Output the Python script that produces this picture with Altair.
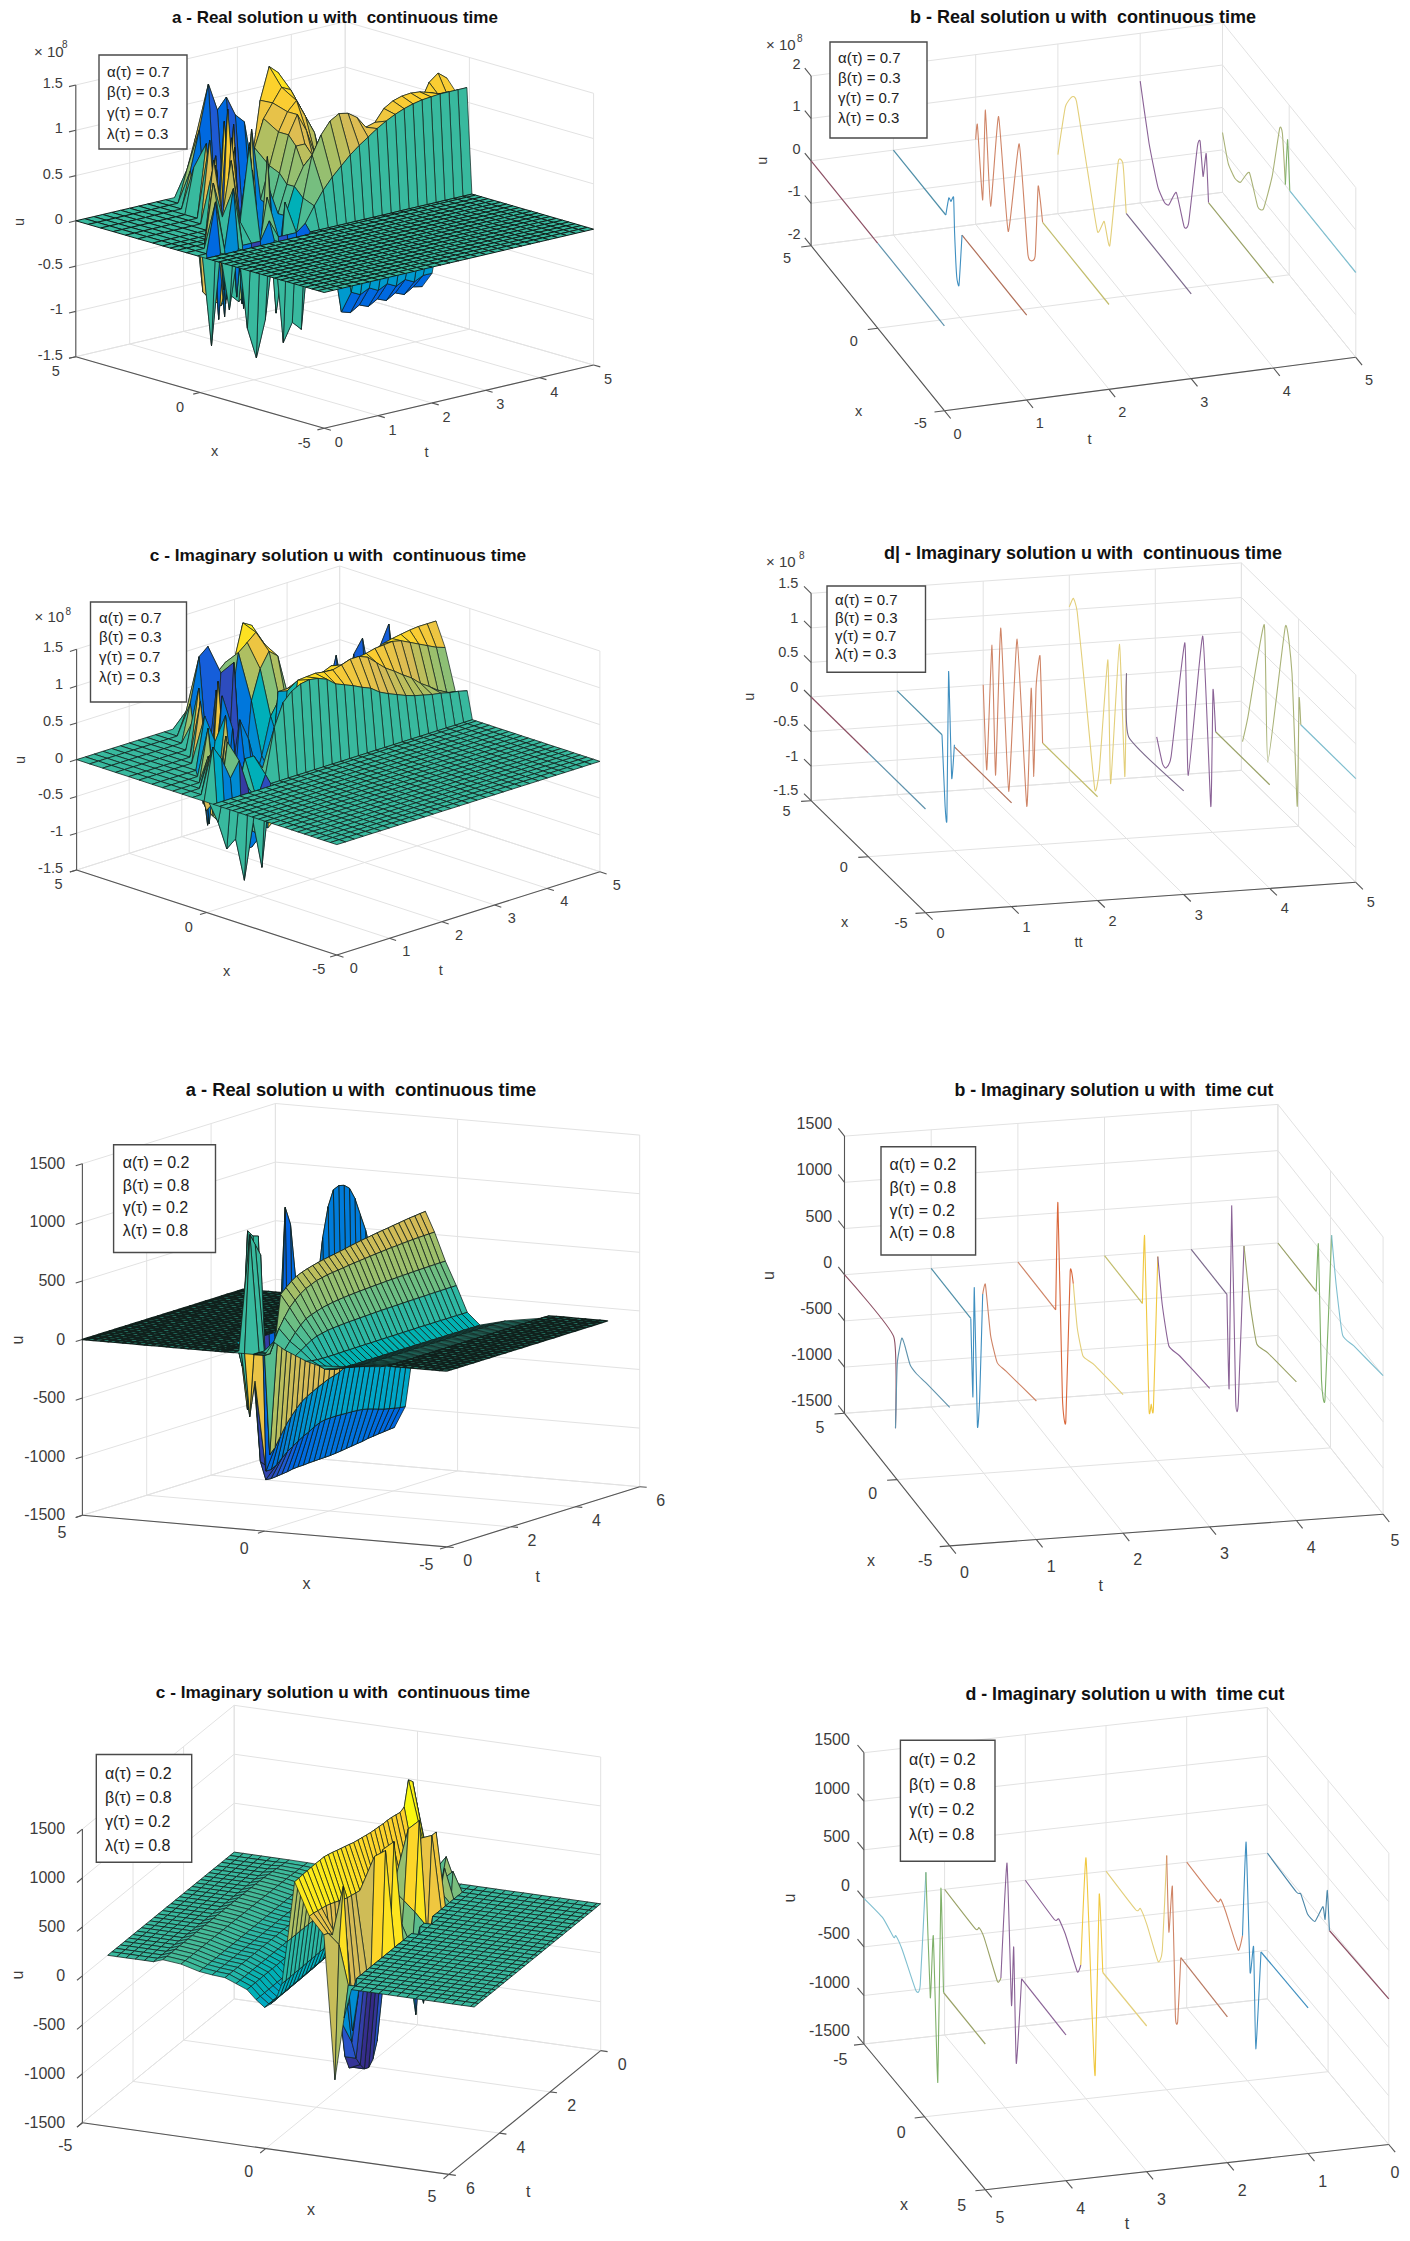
import altair as alt

PARULA = ["#352A87", "#0363E1", "#1485D4", "#06A7C6", "#38B99E", "#92BF73", "#D9BA56", "#FCCE2E", "#F9FB0E"]
RED, BLUEG, TEAL, BLUE = "#8c4f63", "#5f93ad", "#4f8fa8", "#3f8fc0"
ORANGE, OLIVEY, YELLOW, PURPG = "#cf8466", "#c2bd6c", "#e3cf7a", "#7c6a8c"
PURPLE, OLIVE, OLIVEG, LBLUE, GREEN = "#8a6296", "#9aa267", "#a9b277", "#7fbfd0", "#7fb069"

# ---------- surface a (x row -> u at t = i/6, in 1e8) ----------
A_ROWS = [
 (-0.1, [0,-1.0,0,-.65,0,-.9,-1.25,-.85,0,-1.15,-.95,-1.05,0,0,0,0,0,0,0,0,0,0,0,0,0,0,0,0,0,0,0]),
 (0.1, [0,0,.55,0,.65,0,0,0,.2,0,0,0,.08,.25,.4,.52,.62,.72,.8,.87,.94,1.0,1.05,1.09,1.12,1.14,1.15,1.16,1.16,1.16,1.16]),
 (0.55, [0,0,0,.7,.3,.9,.2,1.0,-.2,.4,-.9,.3,-.2,.3,.75,.95,1.08,1.14,1.12,1.05,.92,.95,1.08,1.14,1.17,1.18,1.17,1.14,1.1,1.08,1.08]),
 (0.9, [0,0,0,0,.9,-.3,1.1,-.4,1.0,-.5,.8,-.6,.1,.4,.6,.7,.8,.85,.85,.8,.65,.65,.8,.85,.9,.92,.95,1.0,1.2,1.28,1.2]),
 (1.2, [0,0,0,0,0,.8,-.6,.9,-.8,.7,-.7,.4,.1,.4,.8,.8,.6,.4,.3,.1,.0,-.4,-.45,-.5,-.5,-.5,-.5,-.5,-.5,-.5,-.5]),
 (1.5, [0,0,0,0,0,0,.7,-.8,.9,-.9,.6,-.8,.15,.5,.9,1.1,.9,.6,.3,.1,-.5,-1.0,-1.05,-1.0,-1.05,-1.0,-1.05,-1.0,-1.05,-1.0,-1.0]),
 (1.9, [0,0,0,0,0,0,0,.8,-1.0,1.1,-.9,1.0,.2,.55,.9,1.1,1.2,1.0,.8,.4,-.6,-1.25,-1.28,-1.22,-1.26,-1.2,-1.24,-1.18,-1.22,-1.16,-1.18]),
 (2.5, [0,0,0,0,0,0,0,0,.9,-1.1,1.2,-.9,.4,.7,1.0,1.15,1.3,1.25,1.05,.7,.4,.2,-.2,-.5,-.7,-.7,-.7,-.7,-.7,-.7,-.7]),
 (3.0, [0,0,0,0,0,0,0,0,0,.8,-1.0,1.0,-.6,0,.44,1.14,1.49,1.4,1.2,.9,.7,.5,.2,-.2,-.5,-.7,-.8,-.8,-.8,-.8,-.8]),
 (3.5, [0,0,0,0,0,0,0,0,0,.5,-.9,-1.0,-1.1,-1.0,-1.1,-1.0,-.8,-.5,-.2,0,.2,.3,.2,0,-.2,-.4,-.5,-.6,-.6,-.6,-.6]),
 (4.0, [0,0,0,0,0,0,0,0,0,0,.4,.83,1.31,1.0,1.12,.9,.8,.2,-.3,-.6,-.8,-.8,-.8,-.6,-.4,-.2,-.2,-.2,-.2,-.2,-.2]),
 (4.5, [0,0,0,0,0,0,0,0,0,0,0,.35,.7,.2,.4,.5,.2,0,0,0,0,0,0,0,0,0,0,0,0,0,0]),
]
# ---------- surface c ----------
C_ROWS = [
 (-0.1, [0,-.3,-.7,-.6,-1.2,-.45,-1.1,0,0,0,0,0,0,0,0,0,0,0,0,0,0,0,0,0,0,0,0,0,0,0,0]),
 (0.1, [0,.7,.5,.2,.4,0,-.2,.1,.7,1.0,1.12,1.18,1.2,1.18,1.13,1.03,.98,.93,.87,.82,.73,.67,.62,.57,.53,.5,.47,.45,.42,.4,.37]),
 (0.55, [0,0,.5,-.3,.6,-.2,.3,.3,.1,0,-.2,-.1,1.14,1.15,1.16,1.14,1.13,1.16,1.2,1.2,1.15,1.04,.93,.85,.76,.68,.57,.49,.4,.33,.3]),
 (0.95, [0,0,0,.4,-.5,.6,-.4,-.4,-.8,-.9,-.7,-.4,.95,1.0,1.0,1.05,1.05,1.1,1.06,1.08,1.1,1.12,1.15,1.16,1.17,1.14,1.08,1.02,.96,.9,.86]),
 (1.3, [0,0,0,0,.7,-.3,.8,-.9,-1.1,-1.1,-.9,-.5,.9,.9,.95,.95,.95,.9,.9,.9,.95,1.0,1.0,1.05,1.1,1.13,1.15,1.17,1.18,1.18,1.18]),
 (1.7, [0,0,0,0,0,-.5,.4,-.8,.5,-.9,-.7,-.9,-1.0,-.9,-1.0,-1.1,-1.0,-1.1,-1,-1.1,-1.0,-.9,-1.0,-1.0,-1.0,-1,-1,-1,-1,-1,-1]),
 (2.1, [0,0,0,0,0,0,.7,-.7,.9,-1.0,.5,.2,-.3,-.6,-.5,-.2,0,.2,.3,.4,.5,.96,.3,.9,1.08,.4,.9,1.16,.2,-.3,-.5]),
 (2.6, [0,0,0,0,0,0,0,.8,-.9,1.0,-.8,-1.1,-1.0,-.6,-.2,.3,.5,.3,.1,-.2,-.4,-.5,-.5,-.5,-.5,-.5,-.5,-.5,-.5,-.5,-.5]),
 (3.0, [0,0,0,0,0,0,0,0,.9,-1.0,.8,-1.1,1.1,-.8,.5,.9,1.1,1.0,.5,.1,-.3,-.6,-.7,-.7,-.7,-.7,-.7,-.7,-.7,-.7,-.7]),
 (3.5, [0,0,0,0,0,0,0,0,0,.4,-.8,-1.0,.9,.3,1.1,1.2,1.3,1.1,.6,.1,-.3,-.6,-.7,-.7,-.7,-.7,-.7,-.7,-.7,-.7,-.7]),
 (4.0, [0,0,0,0,0,0,0,0,0,0,.5,1.1,1.2,.8,.91,.9,1.37,1.3,.7,.2,-.2,-.5,-.6,-.6,-.6,-.6,-.6,-.6,-.6,-.6,-.6]),
 (4.5, [0,0,0,0,0,0,0,0,0,0,0,.3,.5,.2,.3,.4,.3,.1,0,0,0,0,0,0,0,0,0,0,0,0,0]),
]
# ---------- surface e ----------
E_ROWS = [
 (-3.2, [-10,-15,-20,-22,-24,-25,-25,-25,-25,-25,-25,-25,-25,-25,-25,-25,-25,-25,-25,-25,-25,-25,-25,-25,-25,-25,-25,-25,-25,-25,-25]),
 (-2.2, [-38,-55,-65,-70,-72,-74,-75,-75,-75,-75,-75,-75,-75,-75,-75,-75,-75,-75,-75,-75,-75,-75,-75,-75,-75,-75,-75,-75,-75,-75,-75]),
 (-1.5, [-50,-90,-110,-120,-125,-128,-130,-130,-130,-130,-130,-130,-130,-130,-130,-130,-130,-130,-130,-130,-130,-130,-130,-130,-130,-130,-130,-130,-130,-130,-130]),
 (-1.15, [-20,-30,-35,-38,-38,-38,-38,-36,-36,-35,-35,-34,-34,-33,-33,-32,-32,-32,-31,-31,-31,-30,-30,-30,-30,-30,-30,-30,-30,-30,-30]),
 (-.85, [20,50,80,110,130,140,150,155,160,163,166,168,170,172,174,176,178,179,180,181,182,183,184,185,186,187,188,188,189,189,190]),
 (-.55, [60,120,180,230,270,290,305,320,330,338,345,350,355,358,362,365,368,370,372,375,377,379,381,383,385,386,387,388,389,390,390]),
 (-.25, [120,220,300,370,420,460,490,510,530,540,550,556,562,568,574,580,585,590,595,600,604,608,612,615,618,621,624,626,628,629,630]),
 (0.0, [0,0,100,476,520,560,590,610,625,638,650,660,668,677,685,695,705,713,722,730,738,745,752,758,765,772,778,785,790,795,800]),
 (0.3, [0,0,0,-900,-850,-770,-690,-630,-575,-529,-500,-475,-450,-430,-408,-395,-380,-352,-345,-340,-335,-330,-328,-325,-322,-320,-318,-316,-315,-314,-312]),
 (0.55, [0,1000,900,800,-1060,-1060,-1034,-990,-950,-920,-890,-860,-840,-810,-790,-778,-776,-776,-778,-780,-782,-785,-790,-800,-815,-830,-845,-855,-865,-875,-880]),
 (0.85, [0,0,0,-590,-300,-1000,-1170,-1175,-1170,-1165,-1160,-1150,-1146,-1145,-1142,-1140,-1138,-1137,-1135,-1130,-1125,-1118,-1112,-1105,-1100,-1090,-1085,-1080,-1075,-1070,-1066]),
 (1.1, [0,0,0,0,0,0,0,-500,-1050,-1000,-900,-900,-900,-850,-800,-800,-750,-700,-700,-700,-700,-700,-700,-700,-700,-700,-700,-700,-700,-700,-700]),
 (1.2, [0,0,0,0,0,958,900,885,-1000,-1100,-900,-500,1058,900,400,-300,-600,-300,300,700,950,1080,1102,1090,1050,950,800,650,450,300,100]),
 (1.35, [0,0,0,0,0,-200,-588,0,0,0,0,0,0,0,0,0,0,0,0,0,0,0,0,0,0,0,0,0,0,0,0]),
]
# ---------- surface g ----------
G_ROWS = [
 (-3.5, [0,5,10,15,20,25,28,30,31,32,33,34,34,34,34,34,34,34,34,34,34,34,34,34,34,34,34,34,34,34,34]),
 (-3.0, [-3,0,2,4,6,8,9,10,10,11,11,12,12,12,13,13,13,14,14,14,14,15,15,15,15,15,15,15,15,15,15]),
 (-2.5, [-10,-15,-20,-22,-25,-26,-26,-27,-27,-28,-28,-29,-29,-30,-30,-30,-31,-31,-31,-32,-32,-32,-33,-33,-33,-33,-34,-34,-34,-34,-34]),
 (-2.15, [-30,-35,-38,-40,-42,-44,-45,-45,-46,-46,-47,-47,-47,-48,-48,-48,-49,-49,-49,-50,-50,-50,-50,-50,-50,-50,-50,-50,-50,-50,-50]),
 (-1.8, [-50,-50,-51,-52,-52,-53,-53,-54,-54,-55,-55,-55,-56,-56,-56,-57,-57,-57,-58,-58,-58,-58,-59,-59,-59,-59,-60,-60,-60,-60,-60]),
 (-1.5, [-75,-80,-85,-88,-90,-92,-94,-95,-96,-97,-98,-98,-99,-99,-100,-100,-100,-101,-101,-102,-102,-102,-103,-103,-103,-103,-104,-104,-104,-105,-105]),
 (-1.2, [-110,-115,-120,-125,-130,-132,-134,-136,-137,-138,-139,-140,-141,-142,-143,-144,-144,-145,-145,-146,-146,-147,-147,-148,-148,-148,-149,-149,-150,-150,-150]),
 (-.95, [-120,-140,-170,-190,-200,-210,-215,-218,-220,-222,-224,-225,-226,-227,-228,-229,-230,-231,-232,-233,-234,-235,-236,-237,-238,-238,-239,-239,-240,-240,-240]),
 (-.72, [-60,-100,-150,-190,-230,-250,-270,-275,-278,-280,-282,-283,-285,-287,-288,-290,-292,-293,-295,-296,-297,-298,-299,-300,-301,-302,-303,-304,-305,-306,-307]),
 (-.55, [40,-30,-90,-130,-170,-190,-200,-210,-218,-222,-226,-230,-233,-236,-238,-240,-242,-244,-246,-248,-250,-252,-254,-255,-256,-257,-258,-259,-260,-261,-262]),
 (-.4, [120,50,0,-50,-90,-120,-130,-140,-150,-155,-160,-165,-170,-172,-174,-176,-178,-180,-182,-184,-186,-188,-190,-191,-192,-193,-194,-195,-196,-198,-199]),
 (-.25, [400,300,220,150,100,60,40,20,10,0,-5,-10,-12,-15,-18,-20,-22,-24,-26,-28,-30,-32,-33,-34,-35,-36,-37,-38,-39,-40,-40]),
 (-.1, [700,600,500,450,420,400,400,400,400,400,400,400,400,400,400,400,400,400,400,400,400,400,400,400,400,400,400,400,400,400,400]),
 (0.1, [500,800,1060,1113,870,850,860,870,875,875,880,885,890,900,910,920,930,945,960,975,990,1005,1018,1030,1030,1030,1030,1028,1025,1022,1020]),
 (0.5, [0,100,300,500,100,200,220,240,260,280,300,330,360,400,440,490,510,520,530,540,550,560,580,600,620,640,655,665,675,685,690]),
 (0.9, [0,300,100,-300,-200,100,-100,700,100,-500,900,200,-300,100,-200,400,900,300,900,-500,-800,-1000,-1050,-1080,-1050,-900,-500,395,450,500,521]),
 (1.2, [0,0,200,-400,300,100,744,744,-200,-900,1001,100,-400,-200,-600,200,997,-100,975,-300,-900,-1050,-1100,-1080,-1000,-900,-700,-300,964,400,-945]),
 (1.45, [0,0,0,0,0,0,0,0,0,0,-400,0,0,-863,0,0,0,0,0,0,0,0,0,0,0,0,0,0,-500,0,-300]),
]

# ---------- slice curves: (t, colour, x values, u values) ----------
B_LINES = [
 (0,RED,[5,0],[0,0]),(0,BLUEG,[0,-5],[0,0]),
 (1,TEAL,[5,1.07],[0,0]),
 (1,BLUE,[1.07,.84,.68,.48,.41,.25,.08,-.15],[0,.49,.47,.65,-.17,-1.13,-1.27,0]),
 (1,"#b06f58",[-.15,-5],[0,0]),
 (2,ORANGE,[5,4.87,4.47,4.27,3.88,3.28,2.56,1.73,1.07,.54,.31,-.02],[0,.40,-1.22,.98,-1.14,1.21,-1.22,1.17,-1.2,-1.02,.73,0]),
 (2,OLIVEY,[-.02,-5],[0,0]),
 (3,YELLOW,[5,4.44,3.94,3.61,2.79,2.03,1.53,1.11,.48,.15,.05,-.12],[-.61,.74,1.17,1.19,-.11,-1.27,-.83,-1.24,.98,1.1,.84,0]),
 (3,PURPG,[-.12,-5],[0,0]),
 (4,PURPLE,[5,4.34,3.68,3.18,2.85,2.29,1.7,1.37,.71,.51,.28,.05,-.12],[.87,-.33,-1.1,-1.28,-1.21,-.7,-1.28,-1.06,1.0,1.2,.46,1.09,0]),
 (4,OLIVE,[-.12,-5],[0,0]),
 (5,OLIVEG,[5,4.57,4.08,3.65,2.99,2.36,1.93,1.27,.71,.51,.28],[-.59,-1.15,-1.31,-1.24,-.75,-1.31,-1.2,-.17,1.18,1.14,.02]),
 (5,GREEN,[.28,.12,-.05],[.02,1.14,0]),
 (5,LBLUE,[-.05,-5],[0,0]),
]
D_LINES = [
 (0,RED,[5,0],[0,0]),(0,BLUEG,[0,-5],[0,0]),
 (1,TEAL,[5,1.08],[0,0]),
 (1,BLUE,[1.08,.81,.65,.5,.23,0],[0,-.99,-1.15,1.01,-.49,.03]),
 (1,"#b06f58",[0,-5],[0,0]),
 (2,ORANGE,[5,4.69,4.23,3.92,3.46,2.77,2.04,1.19,.81,.58,.38,.04,-.19],[0,-1.18,.7,-1.13,1.07,-1.18,1.14,-1.14,.63,-.61,.72,1.22,0]),
 (2,OLIVEY,[-.19,-5],[0,0]),
 (3,YELLOW,[5,4.65,4.31,3.62,2.77,2.38,1.62,1.38,.62,.15,0],[1.04,1.22,1.08,.06,-1.24,-.9,.82,-.93,1.21,-.63,.89]),
 (3,PURPG,[0,-.19,-5],[.89,0,0]),
 (4,PURPLE,[4.88,4.38,4.08,3.62,2.42,2.12,.85,.15,-.04,-.27],[-.91,-1.21,-1.23,-.99,.85,-1.02,1.2,-1.15,.57,0]),
 (4,OLIVE,[-.27,-5],[0,0]),
 (5,OLIVEG,[4.9,4.42,3,2.69,1.15,.58,.12,-.04,-.19],[-1.07,-.63,.93,-1.01,1.21,.62,-1.23,.36,0]),
 (5,LBLUE,[-.19,-5],[0,0]),
]
F_LINES = [
 (0,RED,[5,.31,.15],[0,0,-965]),
 (0,BLUEG,[.15,-.02,-.44,-.73,-1.23,-1.86,-2.82,-5],[-965,-235,93,56,-78,-90,-56,0]),
 (1,TEAL,[5,1.23],[0,0]),
 (1,BLUE,[1.23,1.03,.9,.61,.4,.1],[0,-823,380,-1073,-771,425]),
 (1,ORANGE,[.1,-.15,-.65,-1.28,-2.11,-5],[425,566,86,-119,-93,0]),
 (2,ORANGE,[5,1.4],[0,0]),
 (2,"#d9663a",[1.4,1.19,.77,.44,.02,-.27],[0,1189,-857,-1070,611,522]),
 (2,YELLOW,[-.27,-.65,-1.19,-2.24,-5],[522,93,-130,-71,0]),
 (3,OLIVEY,[5,1.4],[0,0]),
 (3,"#f0c840",[1.4,1.19,.77,.56,.36,-.06],[0,760,-1055,-969,-995,716]),
 (3,PURPLE,[-.06,-.48,-1.11,-2.15,-5],[716,261,-97,-60,0]),
 (4,PURPG,[5,1.61],[0,0]),
 (4,PURPLE,[1.61,1.4,1.15,.77,.52,-.02],[0,-991,1025,-1032,-1017,757]),
 (4,OLIVE,[-.02,-.61,-1.23,-2.28,-5],[757,209,-130,-75,0]),
 (5,OLIVE,[5,1.36],[0,0]),
 (5,GREEN,[1.36,1.15,.86,.52,-.1],[0,540,-891,-1047,816]),
 (5,LBLUE,[-.1,-.52,-1.15,-2.2,-5],[816,354,-115,-78,0]),
]
H_LINES = [
 (5,LBLUE,[-5,-3.44,-2.54,-2.36,-1.81,-.72,-.36,.11],[0,34,-34,11,-60,-307,-199,1035]),
 (5,GREEN,[.11,.47,.72,1.09,1.34,1.56],[1035,-202,472,-982,1054,15]),
 (5,OLIVE,[1.56,5],[15,0]),
 (4,OLIVE,[-5,-2.46,-2.17,-1.74,-.65,-.36],[0,-26,30,-11,-296,-217]),
 (4,PURPLE,[-.36,.14,.51,.69,.91,1.34],[-217,1042,-367,259,-907,30]),
 (4,PURPLE,[1.34,5],[30,0]),
 (3,PURPLE,[-5,-2.61,-2.25,-1.7,-.72,-.43],[0,-45,15,-60,-300,-187]),
 (3,"#f0c840",[-.43,0,.51,.76,1.09,1.38],[-187,982,-574,-1136,769,7]),
 (3,YELLOW,[1.38,5],[7,0]),
 (2,YELLOW,[-5,-2.54,-2.17,-1.63,-.72,-.36,0],[0,-30,41,-45,-285,-120,911]),
 (2,ORANGE,[0,.18,.47,.72,.91,1.16],[911,150,664,-632,-660,34]),
 (2,"#b97a62",[1.16,5],[34,0]),
 (1,ORANGE,[-5,-2.5,-2.21,-1.78,-.76,-.4],[0,-26,37,-30,-270,-67]),
 (1,BLUE,[-.4,-.11,.22,.51,.69,1.12],[-67,941,-349,-45,-1069,-7]),
 (1,BLUE,[1.12,5],[-7,0]),
 (0,"#4a86a8",[-5,-2.61,-2.25,-1.7,-1.09,-.43,-.25,-.07,.11],[0,-41,-7,-131,-116,135,30,356,-30]),
 (0,RED,[.11,5],[-30,0]),
]

SCI = ["8"]
ALPHA_LABELS = ["α(τ)", "β(τ)", "γ(τ)", "λ(τ)"]
VALS_1 = ["0.7", "0.3", "0.7", "0.3"]
VALS_2 = ["0.2", "0.8", "0.2", "0.8"]
U1 = [-1.5, -1, -.5, 0, .5, 1, 1.5]
U1L = ["-1.5", "-1", "-0.5", "0", "0.5", "1", "1.5"]
U2 = [-2, -1, 0, 1, 2]
U2L = ["-2", "-1", "0", "1", "2"]
U3 = [-1500, -1000, -500, 0, 500, 1000, 1500]
U3L = [str(v) for v in U3]
NB = "\u00a0"

PANELS = [
 dict(id="A", P0=(75.8,356.7), Pu=(75.8,85), Px=(324.2,428.3), Pt=(593.6,365), xa=5, xb=-5, ta=0, tb=5, u=U1, ul=U1L,
      tt=[0,1,2,3,4,5], du=(-13,-1), dx=(-20,15.5), dt=(14.5,15), tick="t", xl=(214.7,451.7), tl=(426.5,452.7), tname="t", ulab=(20,222),
      title=f"a - Real solution u with {NB}continuous time", tp=(335,18), tf=17, box=(99,55,187,149), tx=107, ly=[71.7,92.3,113.3,134], vals=VALS_1, sci=(34,52,62,45), fs=14.5, lf=15),
 dict(id="B", P0=(811.1,245.7), Pu=(811.1,76), Px=(944.4,410.7), Pt=(1355.8,357.3), xa=5, xb=-5, ta=0, tb=5, u=U2, ul=U2L,
      tt=[0,1,2,3,4,5], du=(-10.5,-11), dx=(-24,13.3), dt=(13.2,24), tick="x", xl=(858.6,412.3), tl=(1089.6,440), tname="t", ulab=(762.7,160.7),
      title=f"b - Real solution u with {NB}continuous time", tp=(1083,18), tf=18, box=(830,42,927,138), tx=838, ly=[58,78,98,118], vals=VALS_1, sci=(766,45,797,39), fs=14.5, lf=15),
 dict(id="C", P0=(76.6,870), Pu=(76.6,649.3), Px=(336.8,955), Pt=(599.9,871.7), xa=5, xb=-5, ta=0, tb=5, u=U1, ul=U1L,
      tt=[0,1,2,3,4,5], du=(-13.5,-1), dx=(-18,15), dt=(17,14), tick="t", xl=(226.5,971.7), tl=(440.8,971), tname="t", ulab=(21,760),
      title=f"c - Imaginary solution u with {NB}continuous time", tp=(338,556), tf=17.3, box=(90.5,602,186.5,702), tx=99, ly=[617.7,637.3,657.3,677.3], vals=VALS_1, sci=(34.5,617,65.5,611.7), fs=14.5, lf=15),
 dict(id="D", P0=(811.1,800.7), Pu=(811.1,593.3), Px=(925.5,912.7), Pt=(1355.8,882.3), xa=5, xb=-5, ta=0, tb=5, u=U1, ul=U1L,
      tt=[0,1,2,3,4,5], du=(-12.8,-9.3), dx=(-24.5,11), dt=(15,21), tick="x", xl=(844.5,922.7), tl=(1078.6,943.3), tname="tt", ulab=(749.5,696.7),
      title=f"d| - Imaginary solution u with {NB}continuous time", tp=(1083,554), tf=18, box=(827,586,925.5,672.3), tx=835, ly=[600,618.3,636,654], vals=VALS_1, sci=(766,561.7,799,555.7), fs=14.5, lf=15),
 dict(id="E", P0=(82.4,1515.3), Pu=(82.4,1163.7), Px=(446.7,1546.9), Pt=(639.7,1486.7), xa=5, xb=-5, ta=0, tb=6, u=U3, ul=U3L,
      tt=[0,2,4,6], du=(-17.3,0), dx=(-20.4,17.8), dt=(21,13.8), tick="t", xl=(306.6,1583.8), tl=(537.8,1577), tname="t", ulab=(18,1340),
      title=f"a - Real solution u with {NB}continuous time", tp=(361,1091), tf=18.3, box=(113.6,1144.7,215.5,1252.5), tx=122.7, ly=[1163,1185.7,1208.4,1231], vals=VALS_2, sci=None, fs=16, lf=16),
 dict(id="F", P0=(844.5,1413.3), Pu=(844.5,1136.1), Px=(949.7,1545.9), Pt=(1383.1,1514.2), xa=5, xb=-5, ta=0, tb=5, u=U3, ul=U3L,
      tt=[0,1,2,3,4,5], du=(-12.3,-12), dx=(-24.5,14.8), dt=(14.7,27), tick="x", xl=(871,1561.4), tl=(1100.6,1585.8), tname="t", ulab=(769,1275.6),
      title=f"b - Imaginary solution u with {NB}time cut", tp=(1114,1091), tf=17.8, box=(881,1146.8,975.6,1255), tx=889.4, ly=[1165.4,1187.8,1210.5,1232.9], vals=VALS_2, sci=None, fs=16, lf=16),
 dict(id="G", P0=(82.4,2122.7), Pu=(82.4,1829.1), Px=(448.9,2174.4), Pt=(600.7,2050.6), xa=-5, xb=5, ta=6, tb=0, u=U3, ul=U3L,
      tt=[0,2,4,6], du=(-17.3,0), dx=(-17,23), dt=(21.5,14.5), tick="t", xl=(311,2210), tl=(528.2,2191.8), tname="t", ulab=(18,1975),
      title=f"c - Imaginary solution u with {NB}continuous time", tp=(343,1693), tf=17.2, box=(96.3,1754.5,191.7,1862.3), tx=105, ly=[1774.2,1797.5,1821.5,1845.5], vals=VALS_2, sci=None, fs=16, lf=16),
 dict(id="H", P0=(863.9,2044), Pu=(863.9,1752.7), Px=(985.3,2189.7), Pt=(1388.8,2144.5), xa=-5, xb=5, ta=5, tb=0, u=U3, ul=U3L,
      tt=[0,1,2,3,4,5], du=(-14,-12.7), dx=(-23.5,16.3), dt=(14.7,28), tick="x", xl=(904,2205.3), tl=(1127,2224), tname="t", ulab=(790.4,1898),
      title=f"d - Imaginary solution u with {NB}time cut", tp=(1125,1695), tf=17.8, box=(900.4,1740.3,995,1861.2), tx=909, ly=[1760.3,1785,1810,1835], vals=VALS_2, sci=None, fs=16, lf=16),
]
BY_ID = {p["id"]: p for p in PANELS}


def projector(p):
    umin, umax = p["u"][0], p["u"][-1]
    def f(t, x, u):
        a = (x - p["xa"]) / (p["xb"] - p["xa"])
        b = (t - p["ta"]) / (p["tb"] - p["ta"])
        c = (u - umin) / (umax - umin)
        return (p["P0"][0] + a * (p["Px"][0] - p["P0"][0]) + b * (p["Pt"][0] - p["Px"][0]),
                p["P0"][1] + a * (p["Px"][1] - p["P0"][1]) + b * (p["Pt"][1] - p["Px"][1]) + c * (p["Pu"][1] - p["P0"][1]))
    return f


XS = alt.Scale(domain=[8, 1402], nice=False, zero=False)
YS = alt.Scale(domain=[2233, 8], nice=False, zero=False)
X = alt.X("x:Q", scale=XS, axis=None)
Y = alt.Y("y:Q", scale=YS, axis=None)

grid_rows, axis_rows = [], []
texts = {}


def add_text(key, x, y, s):
    texts.setdefault(key, []).append(dict(x=round(min(x, 1395), 1), y=round(y, 1), s=s))


g = 0
for p in PANELS:
    f = projector(p)
    umin, umax = p["u"][0], p["u"][-1]
    xticks = [-5, 0, 5]
    segs = []
    for t in p["tt"]:
        segs.append([(t, p["xa"], umin), (t, p["xb"], umin)])
        segs.append([(t, p["xa"], umin), (t, p["xa"], umax)])
    for x in xticks:
        segs.append([(p["ta"], x, umin), (p["tb"], x, umin)])
        segs.append([(p["tb"], x, umin), (p["tb"], x, umax)])
    for u in p["u"]:
        segs.append([(p["ta"], p["xa"], u), (p["tb"], p["xa"], u)])
        segs.append([(p["tb"], p["xa"], u), (p["tb"], p["xb"], u)])
    for s in segs:
        g += 1
        for k, q in enumerate(s):
            x_, y_ = f(*q)
            grid_rows.append(dict(g=g, p=k, x=round(x_, 1), y=round(y_, 1)))
    for s in [[(p["ta"], p["xa"], umin), (p["ta"], p["xa"], umax)],
              [(p["ta"], p["xa"], umin), (p["ta"], p["xb"], umin)],
              [(p["ta"], p["xb"], umin), (p["tb"], p["xb"], umin)]]:
        g += 1
        for k, q in enumerate(s):
            x_, y_ = f(*q)
            axis_rows.append(dict(g=g, p=k, x=round(x_, 1), y=round(y_, 1)))
    vt = (p["Pt"][0] - p["Px"][0], p["Pt"][1] - p["Px"][1])
    vx = (p["Px"][0] - p["P0"][0], p["Px"][1] - p["P0"][1])
    nt = (vt[0] ** 2 + vt[1] ** 2) ** .5
    nx = (vx[0] ** 2 + vx[1] ** 2) ** .5
    ut, ux = (vt[0] / nt, vt[1] / nt), (vx[0] / nx, vx[1] / nx)
    tl = 7 if p["tick"] == "t" else 10
    ud = (-ut[0], -ut[1]) if p["tick"] == "t" else (-ux[0], -ux[1])
    def tick(base, d):
        global g
        g += 1
        axis_rows.append(dict(g=g, p=0, x=round(base[0], 1), y=round(base[1], 1)))
        axis_rows.append(dict(g=g, p=1, x=round(base[0] + d[0] * tl, 1), y=round(base[1] + d[1] * tl, 1)))
    for u, lab in zip(p["u"], p["ul"]):
        b = f(p["ta"], p["xa"], u)
        tick(b, ud)
        add_text(("r", p["fs"]), b[0] + p["du"][0], b[1] + p["du"][1], lab)
    for x in xticks:
        b = f(p["ta"], x, umin)
        tick(b, (-ut[0], -ut[1]))
        add_text(("c", p["fs"]), b[0] + p["dx"][0], b[1] + p["dx"][1], str(x))
    for t in p["tt"]:
        b = f(t, p["xb"], umin)
        tick(b, ux)
        add_text(("c", p["fs"]), b[0] + p["dt"][0], b[1] + p["dt"][1], str(t))
    add_text(("c", p["fs"]), p["xl"][0], p["xl"][1], "x")
    add_text(("c", p["fs"]), p["tl"][0], p["tl"][1], p["tname"])
    add_text(("rot", p["fs"]), p["ulab"][0], p["ulab"][1], "u")
    add_text(("title", p["tf"]), p["tp"][0], p["tp"][1], p["title"])
    for y_, lab, v in zip(p["ly"], ALPHA_LABELS, p["vals"]):
        add_text(("l", p["lf"]), p["tx"], y_, f"{lab} = {v}")
    if p["sci"]:
        add_text(("g", 15), p["sci"][0], p["sci"][1], "× 10")
        add_text(("g", 10), p["sci"][2], p["sci"][3], SCI[0])


def frange(a, b, s):
    out, v = [], a
    while v < b - 1e-6:
        out.append(round(v, 3))
        v += s
    return out


def surface(pid, rows, near, far, width, flat_width, clim):
    p = BY_ID[pid]
    f = projector(p)
    nt = 31
    table = [(x, [0] * nt) for x in near] + [(x, (r + [r[-1]] * nt)[:nt]) for x, r in rows] + [(x, [0] * nt) for x in far]
    data = []
    q = 0
    x_idx = list(range(len(table) - 1))
    t_idx = list(range(nt - 1))
    if p["xa"] > p["xb"]:
        x_idx.reverse()          # far side is x = +5
    if p["tb"] > p["ta"]:
        t_idx.reverse()          # far side is the largest t
    for j in x_idx:
        for i in t_idx:
            x0, r0 = table[j]
            x1, r1 = table[j + 1]
            v = r0[i]
            c = v / clim[1] if v > 0 else -v / clim[0]
            c = max(-1, min(1, c))
            flat = not (r0[i] or r0[i + 1] or r1[i] or r1[i + 1])
            pts = [(i / 6, x0, r0[i]), ((i + 1) / 6, x0, r0[i + 1]), ((i + 1) / 6, x1, r1[i + 1]), (i / 6, x1, r1[i]), (i / 6, x0, r0[i])]
            q += 1
            for k, pt in enumerate(pts):
                a, b = f(*pt)
                data.append(dict(q=q, p=k, x=round(a, 1), y=round(b, 1), c=round(c, 3), w=flat_width if flat else width))
    return alt.Chart(alt.Data(values=data)).mark_line(stroke="#10201c", strokeJoin="round").encode(
        x=X, y=Y, detail="q:N", order="p:Q", strokeWidth=alt.StrokeWidth("w:Q", scale=None, legend=None),
        fill=alt.Fill("c:Q", scale=alt.Scale(domain=[-1 + i * .25 for i in range(9)], range=PARULA), legend=None))


def line_layers(pid, lines):
    p = BY_ID[pid]
    f = projector(p)
    smooth, straight = [], []
    for n, (t, col, xs, us) in enumerate(lines):
        target = smooth if len(xs) > 2 else straight
        for k, (x, u) in enumerate(zip(xs, us)):
            a, b = f(t, x, u)
            target.append(dict(g=f"{pid}{n}", p=k, x=round(a, 1), y=round(b, 1), col=col))
    enc = dict(x=X, y=Y, detail="g:N", order="p:Q", color=alt.Color("col:N", scale=None))
    return [alt.Chart(alt.Data(values=straight)).mark_line(strokeWidth=1.2).encode(**enc),
            alt.Chart(alt.Data(values=smooth)).mark_line(strokeWidth=1.1, interpolate="cardinal", tension=.55).encode(**enc)]


layers = [
    alt.Chart(alt.Data(values=grid_rows)).mark_line(color="#e2e2e2", strokeWidth=1).encode(x=X, y=Y, detail="g:N", order="p:Q"),
    alt.Chart(alt.Data(values=axis_rows)).mark_line(color="#555555", strokeWidth=1.1).encode(x=X, y=Y, detail="g:N", order="p:Q"),
]
layers.append(surface("A", A_ROWS, frange(-5, -.2, .25), [5.0], .7, 1.0, (-1.4, 1.5)))
layers.append(surface("C", C_ROWS, frange(-5, -.2, .25), [5.0], .7, .8, (-1.3, 1.4)))
layers.append(surface("E", E_ROWS, frange(-5, -3.3, .2), frange(1.5, 5.01, .2) + [5.0], .8, 1.5, (-1200, 1300)))
layers.append(surface("G", G_ROWS, frange(-5, -3.6, .25), frange(1.65, 5.01, .25) + [5.0], .7, .8, (-1100, 1130)))
for pid, ls in [("B", B_LINES), ("D", D_LINES), ("F", F_LINES), ("H", H_LINES)]:
    layers += line_layers(pid, ls)

box_rows = [dict(x=p["box"][0], y=p["box"][1], x2=p["box"][2], y2=p["box"][3]) for p in PANELS]
layers.append(alt.Chart(alt.Data(values=box_rows)).mark_rect(fill="white", stroke="#4a4a4a", strokeWidth=1.4).encode(
    x=X, y=Y, x2="x2:Q", y2="y2:Q"))

for (kind, size), rows in texts.items():
    kw = dict(font="Liberation Sans", fontSize=size, color="#3c3c3c", baseline="middle")
    if kind == "r":
        kw["align"] = "right"
    elif kind == "c":
        kw["align"] = "center"
    elif kind == "l":
        kw["align"] = "left"
        kw["color"] = "#222222"
    elif kind == "g":
        kw["align"] = "left"
    elif kind == "rot":
        kw["align"] = "center"
        kw["angle"] = 270
    elif kind == "title":
        kw["align"] = "center"
        kw["fontWeight"] = "bold"
        kw["color"] = "#111111"
    layers.append(alt.Chart(alt.Data(values=rows)).mark_text(**kw).encode(x=X, y=Y, text="s:N"))

chart = alt.layer(*layers).properties(
    width=1394, height=2225, padding=0, background="white",
    autosize=alt.AutoSizeParams(type="none")
).configure_view(stroke=None)
chart.save("out.html", embed_options={"renderer": "svg", "actions": False})
